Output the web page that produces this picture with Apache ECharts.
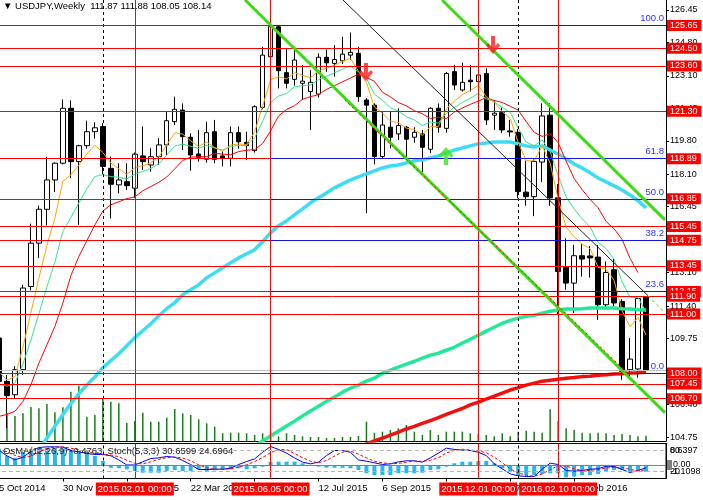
<!DOCTYPE html>
<html>
<head>
<meta charset="utf-8">
<title>USDJPY Weekly</title>
<script src="https://cdn.jsdelivr.net/npm/echarts@6/dist/echarts.min.js"></script>
<style>
html, body { margin: 0; padding: 0; background: #fff; }
#chart { width: 703px; height: 500px; }
</style>
</head>
<body>
<div id="chart"></div>
<script>
// weekly bars (MT4 weeks open on Sunday), two empty weeks on the right
var WEEKS = ['2014-10-05','2014-10-12','2014-10-19','2014-10-26','2014-11-02','2014-11-09','2014-11-16','2014-11-23','2014-11-30','2014-12-07',
  '2014-12-14','2014-12-21','2014-12-28','2015-01-04','2015-01-11','2015-01-18','2015-01-25','2015-02-01','2015-02-08','2015-02-15',
  '2015-02-22','2015-03-01','2015-03-08','2015-03-15','2015-03-22','2015-03-29','2015-04-05','2015-04-12','2015-04-19','2015-04-26',
  '2015-05-03','2015-05-10','2015-05-17','2015-05-24','2015-05-31','2015-06-07','2015-06-14','2015-06-21','2015-06-28','2015-07-05',
  '2015-07-12','2015-07-19','2015-07-26','2015-08-02','2015-08-09','2015-08-16','2015-08-23','2015-08-30','2015-09-06','2015-09-13',
  '2015-09-20','2015-09-27','2015-10-04','2015-10-11','2015-10-18','2015-10-25','2015-11-01','2015-11-08','2015-11-15','2015-11-22',
  '2015-11-29','2015-12-06','2015-12-13','2015-12-20','2015-12-27','2016-01-03','2016-01-10','2016-01-17','2016-01-24','2016-01-31',
  '2016-02-07','2016-02-14','2016-02-21','2016-02-28','2016-03-06','2016-03-13','2016-03-20','2016-03-27','2016-04-03','2016-04-10',
  '2016-04-17','2016-04-24','2016-05-01','2016-05-08'];

var OPEN = [109.78,107.58,106.90,108.17,112.40,114.60,116.32,117.81,118.66,121.45,
  118.74,119.55,120.26,120.52,118.40,117.56,117.72,117.39,119.03,118.57,
  118.99,119.59,120.77,121.36,119.98,119.13,118.86,120.26,119.03,118.91,
  120.21,119.72,119.30,121.50,124.07,125.59,123.26,122.92,122.72,122.30,
  122.17,124.04,123.73,123.86,124.15,124.24,121.87,121.61,119.00,120.49,
  120.15,120.49,119.98,120.15,119.37,121.45,120.43,123.31,122.38,122.88,
  122.80,123.22,121.10,121.23,120.30,120.23,117.19,116.96,118.72,121.10,
  116.90,113.41,112.57,113.96,113.95,113.89,111.47,113.25,111.64,108.17,
  108.21,111.87];
var HIGH = [110.10,107.90,108.35,112.48,115.59,116.50,118.99,118.70,121.90,121.85,
  119.60,120.82,120.74,120.70,119.00,118.66,118.66,119.20,120.52,119.42,
  119.93,121.28,122.04,121.70,120.18,120.35,120.77,120.86,119.26,120.52,
  120.52,120.26,121.60,124.57,125.83,125.68,124.49,124.40,123.65,123.39,
  124.24,124.44,124.66,125.08,125.30,124.57,121.97,121.70,121.28,121.28,
  121.45,120.55,120.49,120.35,121.50,121.70,123.30,123.65,123.76,123.65,
  123.67,123.48,121.87,121.50,120.86,120.40,118.79,118.85,121.70,121.70,
  117.60,114.85,114.51,114.55,114.45,114.50,113.67,113.84,111.75,109.78,
  111.90,111.88];
var LOW = [107.45,105.20,106.70,107.90,112.20,113.84,115.50,117.20,118.60,117.90,
  115.53,119.40,119.90,118.10,115.85,117.13,117.30,116.90,118.32,118.23,
  118.57,119.08,120.60,119.33,118.28,118.74,118.69,118.66,118.50,118.50,
  119.40,118.83,119.20,121.40,123.80,122.46,122.46,122.60,121.87,120.35,
  122.00,123.30,123.05,123.70,123.90,121.78,116.12,118.60,118.90,119.42,
  119.84,118.91,119.70,118.20,119.18,120.20,120.21,122.38,122.30,122.30,
  122.60,120.60,120.35,120.20,120.01,116.88,116.50,115.97,117.70,116.50,
  110.98,112.23,111.05,112.90,112.85,110.70,111.30,111.40,107.66,107.66,
  107.77,108.05];
var CLOSE = [107.58,106.85,108.17,112.32,114.60,116.32,117.81,118.66,121.45,118.74,
  119.55,120.26,120.46,118.49,117.59,117.81,117.52,119.12,118.74,118.99,
  119.59,120.82,121.40,120.01,119.08,118.96,120.21,118.86,118.91,120.21,
  119.75,119.55,121.53,124.15,125.60,123.36,122.72,123.90,122.83,122.77,
  124.04,123.76,123.93,124.20,124.29,122.04,121.61,119.00,120.60,119.98,
  120.57,119.88,120.23,119.47,121.45,120.49,123.22,122.63,122.77,122.80,
  123.14,120.86,121.20,120.35,120.25,117.22,116.96,118.75,121.06,116.90,
  113.16,112.57,113.96,113.79,113.85,111.47,113.11,111.56,108.09,108.71,
  111.79,108.14];

// tick volume (thousands)
var VOLUME = [28,27.7,25,27.7,34,32.7,37,28.7,33.7,49.3,
  55.3,24.3,26,42,39.3,37.7,18,20,28.3,19.3,
  19.3,23.3,32,27.7,26,21.7,17.7,14.3,7.7,8.3,
  8.3,7.7,6,7.7,9.3,4.7,7.7,6,4.7,4,
  4,3,3,4,4,5,19.3,8.3,9.3,11,
  12.7,16,9.3,6,11,6,9.3,9.3,9.3,7.7,
  7,6,4.7,7.7,4.7,9.3,10.3,9.3,8.3,31.7,
  20,12.7,11,8.3,7.7,8.3,7.7,6,7,6,
  4.7,5.3];

// moving averages
var MA_ORANGE = [108.05,107.65,107.82,109.32,111.08,112.83,114.49,115.88,117.74,118.07,
  118.56,119.13,119.57,119.21,118.67,118.38,118.09,118.43,118.53,118.68,
  118.98,119.59,120.20,120.14,119.79,119.51,119.74,119.45,119.27,119.58,
  119.64,119.61,120.25,121.55,122.90,123.05,122.94,123.26,123.12,123.00,
  123.35,123.49,123.64,123.83,123.98,123.33,122.76,121.51,121.21,120.80,
  120.72,120.44,120.37,120.07,120.53,120.52,121.42,121.82,122.14,122.36,
  122.62,122.03,121.75,121.28,120.94,119.70,118.79,118.78,119.54,118.66,
  116.83,115.41,114.93,114.55,114.32,113.37,113.28,112.71,111.17,110.35,
  110.83,109.93];
var MA_SPRING = [107.45,107.33,107.50,108.46,109.69,111.02,112.38,113.64,115.20,115.91,
  116.64,117.36,117.98,118.08,117.98,117.95,117.86,118.11,118.24,118.39,
  118.63,119.07,119.54,119.63,119.52,119.41,119.57,119.43,119.33,119.51,
  119.56,119.56,119.95,120.79,121.75,122.07,122.20,122.54,122.60,122.63,
  122.91,123.08,123.25,123.44,123.61,123.30,122.96,122.17,121.86,121.48,
  121.30,121.02,120.86,120.58,120.75,120.70,121.20,121.49,121.75,121.96,
  122.20,121.93,121.78,121.49,121.24,120.44,119.74,119.54,119.84,119.25,
  118.03,116.94,116.34,115.83,115.43,114.64,114.33,113.78,112.64,111.85,
  111.84,111.10];
var MA_RED = [105.80,105.90,106.06,106.56,107.41,108.51,109.44,110.37,111.56,112.95,
  113.93,114.73,115.52,116.23,116.55,116.70,116.86,116.95,117.26,117.47,
  117.69,117.96,118.37,118.80,118.97,118.99,118.99,119.16,119.12,119.09,
  119.25,119.32,119.35,119.66,120.30,121.06,121.39,121.58,121.91,122.04,
  122.14,122.41,122.60,122.79,122.99,123.18,123.02,122.82,122.27,122.03,
  121.74,121.57,121.33,121.17,120.93,121.00,120.93,121.26,121.46,121.65,
  121.81,122.00,121.84,121.75,121.55,121.36,120.77,120.23,120.02,120.17,
  119.70,118.77,117.88,117.32,116.82,116.40,115.70,115.33,114.79,113.83,
  113.10];
var MA_AQUA = [null,null,null,102.90,103.50,104.10,104.70,105.30,105.90,106.45,
  106.95,107.40,107.80,108.27,108.63,108.98,109.39,109.80,110.15,110.50,
  110.91,111.27,111.57,111.98,112.23,112.48,112.84,113.09,113.35,113.60,
  113.85,114.06,114.26,114.67,115.12,115.48,115.73,116.04,116.34,116.65,
  116.90,117.15,117.41,117.61,117.81,117.97,118.12,118.27,118.42,118.52,
  118.57,118.68,118.78,118.83,118.93,119.03,119.18,119.33,119.43,119.54,
  119.64,119.69,119.74,119.74,119.74,119.64,119.54,119.48,119.54,119.33,
  119.13,118.88,118.62,118.42,118.17,117.91,117.71,117.51,117.30,117.05,
  116.75,116.39];
var MA_MINT = [null,null,null,null,null,null,null,null,null,null,
  null,null,null,null,null,null,null,null,null,null,
  null,null,null,null,null,null,null,null,null,null,
  null,104.05,104.30,104.55,104.80,105.06,105.31,105.56,105.82,106.07,
  106.32,106.57,106.78,107.03,107.23,107.39,107.59,107.74,108.00,108.15,
  108.30,108.45,108.60,108.76,108.91,109.01,109.16,109.31,109.52,109.72,
  109.92,110.13,110.33,110.53,110.68,110.79,110.89,110.94,111.04,111.14,
  111.20,111.25,111.25,111.27,111.30,111.30,111.30,111.30,111.27,111.25,
  111.22,111.20];
var MA_LONG_RED = [null,null,null,null,null,null,null,null,null,null,
  null,null,null,null,null,null,null,null,null,null,
  null,null,null,null,null,null,null,null,null,null,
  null,null,null,null,null,null,null,null,null,null,
  null,null,null,null,null,104.25,104.40,104.55,104.70,104.85,
  105.00,105.16,105.29,105.44,105.59,105.74,105.90,106.05,106.20,106.38,
  106.53,106.68,106.83,106.98,107.14,107.26,107.39,107.49,107.59,107.64,
  107.69,107.74,107.77,107.82,107.84,107.89,107.92,107.95,107.97,108.00,
  108.02,108.05];

// lower window: OsMA(12,26,9) and Stoch(5,3,3)
var OSMA = [1.23,0.69,0.55,0.98,1.18,1.30,1.30,1.30,1.23,1.18,
  1.06,0.98,0.69,0.32,-0.18,-0.22,-0.30,-0.42,-0.55,-0.55,
  -0.55,-0.42,-0.35,-0.42,-0.42,-0.30,-0.42,-0.37,-0.30,-0.30,
  -0.22,-0.30,-0.22,-0.10,0.27,0.27,0.27,0.27,0.15,-0.03,
  -0.10,-0.18,-0.18,-0.18,-0.22,-0.35,-0.59,-0.72,-0.72,-0.72,
  -0.59,-0.59,-0.59,-0.55,-0.35,-0.30,-0.10,0.15,0.27,0.27,
  0.32,0.32,0.15,-0.22,-0.47,-0.79,-0.72,-0.72,-0.64,-0.59,
  -0.59,-0.89,-0.84,-0.72,-0.72,-0.64,-0.47,-0.35,-0.35,-0.47,
  -0.40,-0.4763];
var STOCH_MAIN = [80,64.8,53,61,77,88.6,90.5,90.5,89.5,80,
  76.2,71.4,68.6,68.6,64.8,53,38.7,38.7,47.6,57,
  59,62.9,61,51.4,40,25.7,25.7,26.7,26.7,29.5,
  40,48.6,56,75,91.4,82.9,72.4,59,46.7,41.9,
  46.7,65.7,80,80,75,53,49.5,44.8,40,41.9,
  47.6,50.5,50.5,46.7,59,72.4,86.7,82.9,81,80,
  75,65.7,41.9,27.6,13.3,7.6,5.7,5.7,26.7,43.8,
  40,22.9,21,22.9,26.7,27.6,35.2,34.3,25.7,17.1,
  22.9,30.6599];
var STOCH_SIGNAL = [78,76.6,65.9,59.6,63.7,75.5,85.4,89.9,90.2,86.7,
  81.9,75.9,72.1,69.5,67.3,62.1,52.2,43.5,41.7,47.8,
  54.5,59.6,61.0,58.4,50.8,39.0,30.5,26.0,26.4,27.6,
  32.1,39.4,48.2,59.9,74.1,83.1,82.2,71.4,59.4,49.2,
  45.1,51.4,64.1,75.2,78.3,69.3,59.2,49.1,44.8,42.2,
  43.2,46.7,49.5,49.2,52.1,59.4,72.7,80.7,83.5,81.3,
  78.7,73.6,60.9,45.1,27.6,16.2,8.9,6.3,12.7,25.4,
  36.8,35.6,28.0,22.3,23.5,25.7,29.8,32.4,31.7,25.7,
  21.9,24.6964];

var PRICE_TICKS = [126.45,124.80,123.10,121.45,119.80,118.10,116.45,114.75,113.10,111.40,109.75,108.05,106.40,104.75];
var STOCH_LEVELS = [80, 20];
var OSMA_SCALE = ['0.6397', '0.00', '-1.1098'];

// objects drawn on the chart
var LEVELS = [125.65,124.50,123.60,121.30,118.89,116.85,115.45,114.75,113.45,112.15,111.90,111.00,108.00,107.45,106.70];
var BID = 108.14;
var FIB_START = 34;
var FIB_LEVELS = [125.65,118.91,116.83,114.74,112.17,108.00];
var FIB_NAMES = ['100.0','61.8','50.0','38.2','23.6','0.0'];
var VLINES = [17, 34, 60, 70];
var VLINE_TEXT = ['2015.02.01 00:00','2015.06.05 00:00','2015.12.01 00:00','2016.02.10 00:00'];
var SEPARATORS = [13, 65];
var CHANNEL_LOW = [[30.8, 126.95], [83.37, 105.99]];
var CHANNEL_HIGH = [[55.46, 126.95], [83.37, 115.78]];
var TREND_THIN = [[43.06, 126.95], [81.25, 111.93]];
var TREND_EXT = [[81.25, 111.93], [83.37, 111.07]];
var TREND_DOTTED = [[43.3, 121.87], [78.62, 108.02]];
var SELL_ARROWS = [[45.94, 123.29], [61.85, 124.66]];
var BUY_ARROWS = [[55.96, 119.03]];

var FONT = '"Liberation Sans", Arial, sans-serif';
var MONTHS = ['Jan','Feb','Mar','Apr','May','Jun','Jul','Aug','Sep','Oct','Nov','Dec'];
var last = CLOSE.length - 1;

function weekLabel(s) {
    var p = s.split('-');
    return (+p[2]) + ' ' + MONTHS[+p[1] - 1] + ' ' + p[0];
}
function seg(pts, style) {
    return [{ coord: pts[0], lineStyle: style }, { coord: pts[1] }];
}

var ohlc = OPEN.map(function (o, i) { return [o, CLOSE[i], LOW[i], HIGH[i]]; });

var levelLines = LEVELS.map(function (v) {
    return {
        yAxis: v,
        lineStyle: { color: '#ff0000', width: 1, type: 'solid' },
        label: {
            show: true, position: 'end', distance: 1, formatter: v.toFixed(2),
            color: '#fff', backgroundColor: '#ff0000', padding: [0, 4, 0, 3],
            lineHeight: 11, fontSize: 9, fontFamily: FONT
        }
    };
});
var mainVertical = VLINES.map(function (i) {
    return { xAxis: WEEKS[i], lineStyle: { color: '#ff0000', width: 1, type: 'solid' } };
});
var subVertical = VLINES.map(function (i, k) {
    return {
        xAxis: WEEKS[i],
        lineStyle: { color: '#ff0000', width: 1, type: 'solid' },
        label: {
            show: true, position: 'start', distance: 4, formatter: VLINE_TEXT[k],
            color: '#fff', backgroundColor: '#ff0000', padding: [1, 2, 1, 2],
            lineHeight: 11, fontSize: 9.5, fontFamily: FONT
        }
    };
});
var sepLines = SEPARATORS.map(function (i) {
    return { xAxis: WEEKS[i], lineStyle: { color: '#000', width: 1, type: [3, 3] } };
});
var fibLines = FIB_LEVELS.map(function (v, k) {
    return [{
        coord: [FIB_START, v],
        lineStyle: { color: '#1414d8', width: 1, type: 'solid' },
        label: {
            show: true, position: 'insideEndTop', distance: 2, formatter: FIB_NAMES[k],
            color: '#3030ff', fontSize: 9.5, fontFamily: FONT
        }
    }, { coord: [83.5, v] }];
});
var trendLines = [
    seg(CHANNEL_LOW, { color: '#3cdc14', width: 3, type: 'solid' }),
    seg(CHANNEL_HIGH, { color: '#3cdc14', width: 3, type: 'solid' }),
    seg(TREND_THIN, { color: '#202020', width: 1, type: 'solid' }),
    seg(TREND_EXT, { color: '#3cdc14', width: 1, type: [3, 3] }),
    seg(TREND_DOTTED, { color: '#ff0000', width: 1, type: [2, 3] })
];

var DOWN_ARROW = 'path://M5,0 L9,0 L9,10 L12,7 L14,9.5 L7,18 L0,9.5 L2,7 L5,10 Z';
var UP_ARROW = 'path://M5,18 L9,18 L9,8 L12,11 L14,8.5 L7,0 L0,8.5 L2,11 L5,8 Z';

function maLine(data, color, width) {
    return {
        type: 'line', xAxisIndex: 0, yAxisIndex: 0, data: data, symbol: 'none',
        silent: true, animation: false, connectNulls: false,
        lineStyle: { color: color, width: width }
    };
}

var chart = echarts.init(document.getElementById('chart'));
var option = {
    animation: false,
    backgroundColor: '#fff',
    textStyle: { fontFamily: FONT },
    title: [{
        text: '\u25BC USDJPY,Weekly  ' + OPEN[last].toFixed(2) + ' ' + HIGH[last].toFixed(2) + ' ' +
            LOW[last].toFixed(2) + ' ' + CLOSE[last].toFixed(2),
        left: 3, top: 1, padding: 0,
        textStyle: { fontSize: 9.5, fontWeight: 'normal', color: '#000', fontFamily: FONT }
    }, {
        text: 'OsMA(12,26,9) ' + OSMA[last].toFixed(4) + '  Stoch(5,3,3) ' +
            STOCH_MAIN[last].toFixed(4) + ' ' + STOCH_SIGNAL[last].toFixed(4),
        left: 3, top: 446, padding: 0,
        textStyle: { fontSize: 9.5, fontWeight: 'normal', color: '#222', fontFamily: FONT }
    }],
    grid: [
        { left: -5, right: 37, top: 0, height: 441, containLabel: false, outerBoundsMode: 'none' },
        { left: -5, right: 37, top: 443.5, height: 35, containLabel: false, outerBoundsMode: 'none',
          show: true, borderColor: '#000', borderWidth: 1, backgroundColor: 'transparent' }
    ],
    xAxis: [{
        type: 'category', gridIndex: 0, data: WEEKS,
        axisLine: { show: true, onZero: false, lineStyle: { color: '#000', width: 1 } },
        axisTick: { show: false }, axisLabel: { show: false }, splitLine: { show: false }
    }, {
        type: 'category', gridIndex: 1, data: WEEKS,
        axisLine: { show: false, onZero: false },
        axisTick: { show: true, interval: 7, alignWithLabel: true, length: 3, lineStyle: { color: '#000' } },
        axisLabel: {
            interval: 7, align: 'left', margin: 5, showMinLabel: true, showMaxLabel: false,
            color: '#000', fontSize: 9.5, fontFamily: FONT, formatter: weekLabel
        },
        splitLine: { show: false }
    }, {
        type: 'value', gridIndex: 0, min: -0.5, max: 83.5, show: false,
        axisLine: { onZero: false }
    }],
    yAxis: [{
        type: 'value', gridIndex: 0, position: 'right', min: 104.55, max: 126.95,
        axisLine: { show: true, onZero: false, lineStyle: { color: '#000', width: 1 } },
        axisTick: { show: true, length: 3, customValues: PRICE_TICKS, lineStyle: { color: '#000' } },
        axisLabel: {
            customValues: PRICE_TICKS, margin: 4, color: '#000', fontSize: 9, fontFamily: FONT,
            formatter: function (v) { return v.toFixed(2); }
        },
        splitLine: { show: false }
    }, {
        type: 'value', gridIndex: 0, min: 0, max: 441, show: false,
        axisLine: { onZero: false }, splitLine: { show: false }
    }, {
        type: 'value', gridIndex: 1, position: 'right', min: 0, max: 100,
        axisLine: { show: true, onZero: false, lineStyle: { color: '#000', width: 1 } },
        axisTick: { show: false },
        axisLabel: { customValues: STOCH_LEVELS, margin: 4, color: '#000', fontSize: 9, fontFamily: FONT },
        splitLine: { show: false }
    }, {
        type: 'value', gridIndex: 1, min: -0.98, max: 1.62, show: false,
        axisLine: { onZero: false }, splitLine: { show: false }
    }],
    series: [{
        name: 'Volume', type: 'bar', xAxisIndex: 0, yAxisIndex: 1, data: VOLUME,
        barWidth: 1.5, silent: true, z: 1, itemStyle: { color: '#1b7a1b' }
    }, {
        name: 'USDJPY', type: 'candlestick', xAxisIndex: 0, yAxisIndex: 0, data: ohlc,
        barWidth: 5, silent: true, z: 2,
        itemStyle: { color: '#fff', color0: '#000', borderColor: '#000', borderColor0: '#000', borderWidth: 1 },
        markLine: {
            silent: true, animation: false, symbol: ['none', 'none'], label: { show: false },
            data: [{ yAxis: BID, lineStyle: { color: '#c0c0c0', width: 1, type: 'solid' } }]
                .concat(mainVertical, sepLines, levelLines)
        }
    },
    maLine(MA_AQUA, '#3cdcf5', 3.5),
    maLine(MA_MINT, '#22e898', 3.5),
    maLine(MA_LONG_RED, '#f01010', 3.5),
    maLine(MA_RED, '#ff0000', 1),
    maLine(MA_SPRING, '#2ee88a', 1),
    maLine(MA_ORANGE, '#ffa500', 1),
    {
        name: 'Sell', type: 'scatter', xAxisIndex: 2, yAxisIndex: 0, data: SELL_ARROWS,
        symbol: DOWN_ARROW, symbolSize: [14, 18], silent: true, z: 6,
        itemStyle: { color: '#ff1a1a' },
        markLine: {
            silent: true, animation: false, symbol: ['none', 'none'], label: { show: false },
            data: fibLines.concat(trendLines)
        }
    }, {
        name: 'Buy', type: 'scatter', xAxisIndex: 2, yAxisIndex: 0, data: BUY_ARROWS,
        symbol: UP_ARROW, symbolSize: [15, 18], silent: true, z: 6,
        itemStyle: { color: '#3ce61e' }
    }, {
        name: 'OsMA', type: 'bar', xAxisIndex: 1, yAxisIndex: 3, data: OSMA,
        barWidth: 4, silent: true, itemStyle: { color: '#2bb5ee' },
        markLine: {
            silent: true, animation: false, symbol: ['none', 'none'], label: { show: false },
            data: [{ yAxis: 0, lineStyle: { color: '#808080', width: 1, type: 'solid' } }]
                .concat(sepLines, subVertical)
        }
    }, {
        name: 'Stoch', type: 'line', xAxisIndex: 1, yAxisIndex: 2, data: STOCH_MAIN,
        symbol: 'none', silent: true, lineStyle: { color: '#0000ff', width: 1 },
        markLine: {
            silent: true, animation: false, symbol: ['none', 'none'], label: { show: false },
            data: STOCH_LEVELS.map(function (v) {
                return { yAxis: v, lineStyle: { color: '#b4b4b4', width: 1, type: [4, 3] } };
            })
        }
    }, {
        name: 'Signal', type: 'line', xAxisIndex: 1, yAxisIndex: 2, data: STOCH_SIGNAL,
        symbol: 'none', silent: true, lineStyle: { color: '#ff0000', width: 1, type: [3, 2] }
    }],
    graphic: [
        { type: 'rect', shape: { x: 667, y: 460, width: 5, height: 10 }, style: { fill: '#808080' }, z: 10 },
        { type: 'text', x: 670, y: 451, style: { text: OSMA_SCALE[0], fill: '#000', fontSize: 9, fontFamily: FONT, verticalAlign: 'middle' }, z: 10 },
        { type: 'text', x: 673, y: 465, style: { text: OSMA_SCALE[1], fill: '#000', fontSize: 9, fontFamily: FONT, verticalAlign: 'middle' }, z: 10 },
        { type: 'text', x: 670, y: 472, style: { text: OSMA_SCALE[2], fill: '#000', fontSize: 9, fontFamily: FONT, verticalAlign: 'middle' }, z: 10 }
    ]
};
chart.setOption(option);
</script>
</body>
</html>
